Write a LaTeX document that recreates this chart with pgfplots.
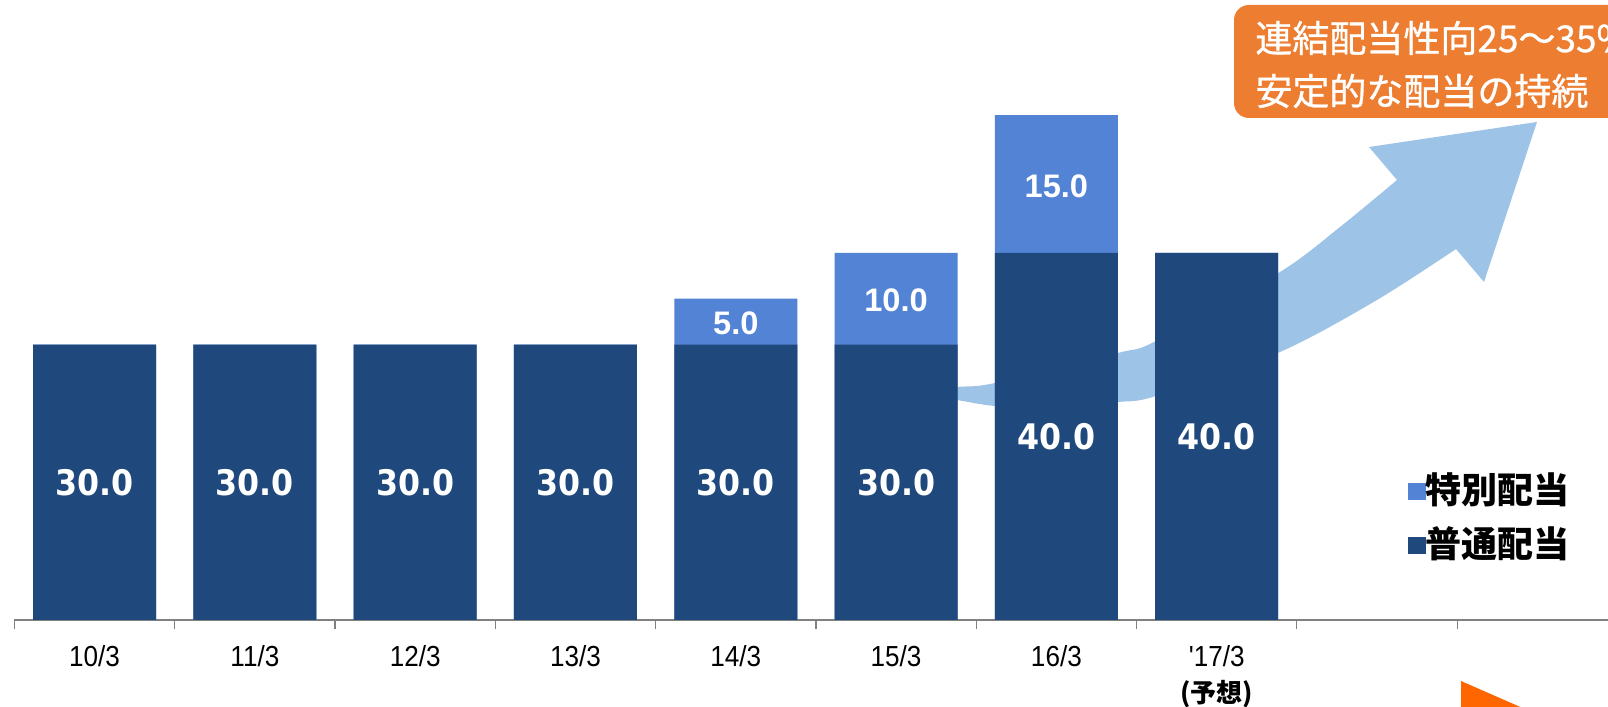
\documentclass[border=0pt]{standalone}
\usepackage{pgfplots}
\pgfplotsset{compat=1.18}
\usepackage{pgfplotstable}
\usepackage{fontspec}
\setmainfont{Liberation Sans}
\newfontfamily\tickfont{Liberation Sans}[FakeStretch=0.9]
\newfontfamily\darkfont{DejaVu Sans}[FakeStretch=0.9]
\newfontfamily\lightfont{Liberation Sans}
\newfontfamily\cjk{Noto Sans CJK JP}
\newfontfamily\boxfont{Noto Sans CJK JP}[FakeBold=0.8]

\definecolor{navy}{RGB}{31,73,125}
\definecolor{sky}{RGB}{82,131,213}
\definecolor{arrowblue}{RGB}{157,195,230}
\definecolor{boxorange}{RGB}{237,125,49}
\definecolor{markorange}{RGB}{255,102,0}

% dividend per share: ordinary and special
\pgfplotstableread{
x regular special
0 30 0
1 30 0
2 30 0
3 30 0
4 30 5
5 30 10
6 40 15
7 40 0
}\dividends

\begin{document}
\begin{tikzpicture}
% rising arrow behind the bars (units: 1 = 0.5pt, y downwards)
\begin{scope}[shift={(0pt,353.5pt)}, x=0.5pt, y=-0.5pt]
\fill[arrowblue]
  plot[smooth, tension=0.5] coordinates {(907,392) (957,387) (995,383) (1118,353) (1156,341) (1280,272) (1340,227) (1397,180)}
  -- (1369,147) -- (1537,122) -- (1484,282)
  -- plot[smooth, tension=0.5] coordinates {(1456,249) (1377,300) (1280,352) (1156,396) (1118,402) (1050,407) (995,406) (957,400) (907,392)}
  -- cycle;
\end{scope}

\begin{axis}[
  at={(7.2pt,43.5pt)}, anchor=south west,
  scale only axis, width=796.8pt, height=275.4pt,
  xmin=-0.5, xmax=9.441, ymin=0, ymax=60,
  hide y axis,
  axis x line*=bottom,
  x axis line style={-, draw=gray, line width=0.75pt},
  xtick={0,...,9},
  xticklabels={10/3,11/3,12/3,13/3,14/3,15/3,16/3,{'17/3\\{\cjk\bfseries\fontsize{13}{15}\selectfont (予想)}},{},{}},
  major tick length=0pt,
  minor xtick={-0.5,0.5,...,8.5},
  minor x tick style={draw=gray, line width=0.6pt},
  minor tick length=4.5pt,
  xtick align=outside,
  xticklabel style={font=\tickfont\fontsize{14.5}{18}\selectfont, align=center, text=black, inner sep=0pt, yshift=-12.3pt},
  bar width=61.5pt,
  clip=false,
  legend style={at={(0.8745,0.2680)}, anchor=north west, draw=none, fill=none,
    inner sep=0pt, outer sep=0pt, row sep=10pt,
    font=\cjk\bfseries\fontsize{18}{21}\selectfont,
    nodes={inner sep=0pt},
    /tikz/every even column/.append style={column sep=7.5pt}},
  legend cell align=left,
]
\addplot[ybar, bar shift=0pt, fill=sky, draw=none,
  legend image code/.code={\fill[sky] (0pt,-5.6pt) rectangle (8.8pt,3.2pt);}]
  table[x=x, y expr=\thisrow{regular}+\thisrow{special}] {\dividends};
\addlegendentry{特別配当}
\addplot[ybar, bar shift=0pt, fill=navy, draw=none,
  legend image code/.code={\fill[navy] (0pt,-5.6pt) rectangle (8.8pt,3.2pt);}]
  table[x=x, y=regular] {\dividends};
\addlegendentry{普通配当}

% value labels in the middle of each segment
\addplot[forget plot, draw=none, mark=none, point meta=explicit,
  nodes near coords={\pgfmathprintnumber[fixed, fixed zerofill, precision=1, assume math mode=true]{\pgfplotspointmeta}},
  nodes near coords style={anchor=center, text=white, inner sep=0pt,
    font=\darkfont\bfseries\fontsize{17.6}{20}\selectfont}]
  table[x=x, y expr=\thisrow{regular}/2, meta=regular] {\dividends};
\addplot[forget plot, draw=none, mark=none, point meta=explicit, unbounded coords=discard,
  nodes near coords={\pgfmathprintnumber[fixed, fixed zerofill, precision=1, assume math mode=true]{\pgfplotspointmeta}},
  nodes near coords style={anchor=center, text=white, inner sep=0pt, yshift=-1pt,
    font=\lightfont\bfseries\fontsize{16.3}{19}\selectfont}]
  table[x=x, y expr={\thisrow{special}>0 ? \thisrow{regular}+\thisrow{special}/2 : nan}, meta=special] {\dividends};
\end{axis}

\begin{scope}[shift={(0pt,353.5pt)}, x=0.5pt, y=-0.5pt]
\fill[boxorange, rounded corners=7.5pt] (1234,5) rectangle (1700,118);
\node[anchor=west, inner sep=0pt, text=white, font=\boxfont\fontsize{18.5}{22}\selectfont] at (1255,38) {連結配当性向25～35\%};
\node[anchor=west, inner sep=0pt, text=white, font=\boxfont\fontsize{18.5}{22}\selectfont] at (1255,91) {安定的な配当の持続};
\fill[markorange] (1461,681) -- (1461,720) -- (1550,720) -- cycle;
\end{scope}

\pgfresetboundingbox
\useasboundingbox (0,0) rectangle (804pt,353.5pt);
\end{tikzpicture}
\end{document}
